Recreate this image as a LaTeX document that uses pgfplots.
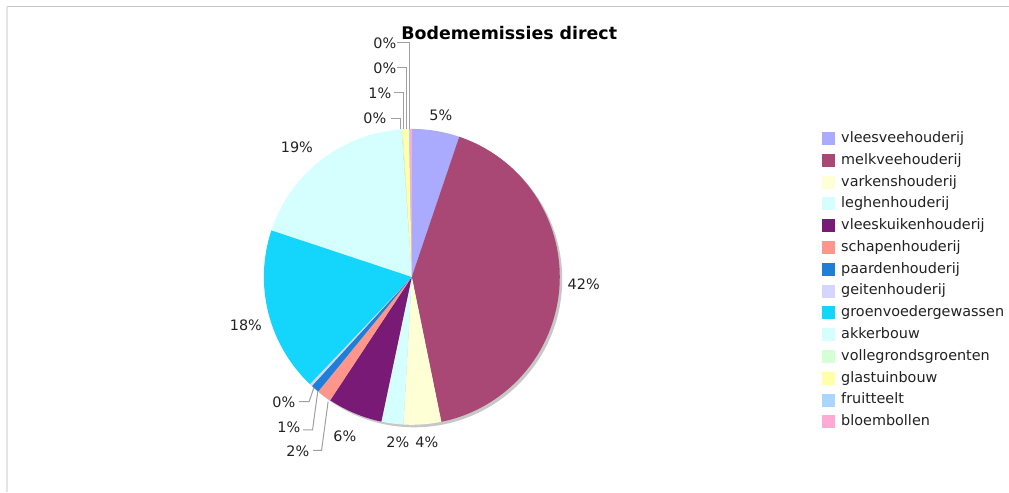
\documentclass[border=0pt]{standalone}
\usepackage{fontspec}
\setmainfont{DejaVu Sans}
\usepackage{pgfplots}
\pgfplotsset{compat=1.18}
\usepackage{pgfplotstable}

\definecolor{cA}{HTML}{AAAAFF}
\definecolor{cB}{HTML}{A94775}
\definecolor{cC}{HTML}{FFFFD5}
\definecolor{cD}{HTML}{D5FFFF}
\definecolor{cE}{HTML}{781A76}
\definecolor{cF}{HTML}{FF968C}
\definecolor{cG}{HTML}{1E7FD8}
\definecolor{cH}{HTML}{D5D5FF}
\definecolor{cI}{HTML}{14D5FC}
\definecolor{cJ}{HTML}{D5FFFF}
\definecolor{cK}{HTML}{D5FFD5}
\definecolor{cL}{HTML}{FFFFAA}
\definecolor{cM}{HTML}{AAD5FF}
\definecolor{cN}{HTML}{FFAAD5}
\definecolor{lead}{HTML}{A0A0A0}
\definecolor{txt}{HTML}{222222}

% share of each sector in percent, clockwise from 12 o'clock
\pgfplotstableread[col sep=comma]{
name,value,color
vleesveehouderij,5.2,cA
melkveehouderij,41.6,cB
varkenshouderij,4.1,cC
leghenhouderij,2.4,cD
vleeskuikenhouderij,6.0,cE
schapenhouderij,1.6,cF
paardenhouderij,0.9,cG
geitenhouderij,0.3,cH
groenvoedergewassen,18.0,cI
akkerbouw,18.8,cJ
vollegrondsgroenten,0.1,cK
glastuinbouw,0.7,cL
fruitteelt,0.1,cM
bloembollen,0.2,cN
}\piedata

\newcommand\lbl{\fontsize{7.2}{8.5}\selectfont}

\begin{document}
\begin{tikzpicture}
\begin{axis}[
  x=0.5pt, y=0.5pt,
  xmin=0, xmax=1009, ymin=0, ymax=492,
  hide axis, clip=false,
  legend cell align=left,
  legend image code/.code={\fill[#1] (0pt,-3pt) rectangle (6pt,3pt);},
  legend style={draw=none, fill=none, inner sep=0pt,
    at={(0.8145,0.7335)}, anchor=north west,
    row sep=3.9pt,
    /tikz/column 1/.style={column sep=3.3pt},
    nodes={inner sep=0pt, text height=5.5pt, text depth=1.5pt,
      font=\lbl, text=txt}},
]
\path (axis cs:0,0) rectangle (axis cs:1009,492);
% frame
\draw[black!22, line width=0.5pt] (axis cs:7,485) -- (axis cs:1009,485);
\draw[black!10, line width=1pt] (axis cs:7,485) -- (axis cs:7,0);

% shadow
\fill[black!22] (axis cs:414.5,212.5) circle[radius=74pt];

\pgfplotstablegetrowsof{\piedata}
\pgfmathtruncatemacro\lastrow{\pgfplotsretval-1}
\def\cum{0}
\pgfplotsforeachungrouped \i in {0,...,\lastrow}{%
  \pgfplotstablegetelem{\i}{value}\of\piedata \let\val\pgfplotsretval
  \pgfplotstablegetelem{\i}{color}\of\piedata \let\col\pgfplotsretval
  \pgfplotstablegetelem{\i}{name}\of\piedata \let\nm\pgfplotsretval
  \pgfmathsetmacro\aA{90-3.6*\cum}
  \pgfmathsetmacro\aB{90-3.6*(\cum+\val)}
  \pgfmathsetmacro\px{412+148*cos(\aA)}
  \pgfmathsetmacro\py{215+148*sin(\aA)}
  \pgfmathsetmacro\cum{\cum+\val}
  \edef\temp{\noexpand\fill[\col] (axis cs:412,215) -- (axis cs:\px,\py)
    arc[start angle=\aA, end angle=\aB, radius=74pt] -- cycle;
    \noexpand\addlegendimage{\col}\noexpand\addlegendentry{\nm}}
  \temp
}

% title
\node[font=\fontsize{8.7}{10}\selectfont\bfseries] at (axis cs:509.5,459) {Bodememissies direct};

% percentage labels
\begin{scope}[every node/.style={font=\lbl, text=txt, inner sep=0pt}]
\node at (axis cs:441,377) {5\%};
\node at (axis cs:584,208) {42\%};
\node at (axis cs:427,50) {4\%};
\node at (axis cs:398,50) {2\%};
\node at (axis cs:345,56) {6\%};
\node at (axis cs:298,41) {2\%};
\node at (axis cs:289,65) {1\%};
\node at (axis cs:284,90) {0\%};
\node at (axis cs:246,167) {18\%};
\node at (axis cs:297,345) {19\%};
\node at (axis cs:375,374) {0\%};
\node at (axis cs:380,399) {1\%};
\node at (axis cs:385,424) {0\%};
\node at (axis cs:385,449) {0\%};
\end{scope}

% leader lines
\begin{scope}[lead, line width=0.5pt]
\draw (axis cs:397,449) -- (axis cs:409.3,449) -- (axis cs:409.3,363);
\draw (axis cs:397.3,424) -- (axis cs:406.7,424) -- (axis cs:406.7,363);
\draw (axis cs:394.3,399.3) -- (axis cs:403.3,399.3) -- (axis cs:403.3,363);
\draw (axis cs:390.7,373.7) -- (axis cs:400.7,373.7) -- (axis cs:400.7,363);
\draw (axis cs:299.3,90.3) -- (axis cs:309.3,90.3) -- (axis cs:314,104);
\draw (axis cs:303.3,62) -- (axis cs:312.7,62) -- (axis cs:318,101);
\draw (axis cs:313.3,41.3) -- (axis cs:321.7,41.3) -- (axis cs:328.3,90.3);
\end{scope}
\end{axis}
\end{tikzpicture}
\end{document}
